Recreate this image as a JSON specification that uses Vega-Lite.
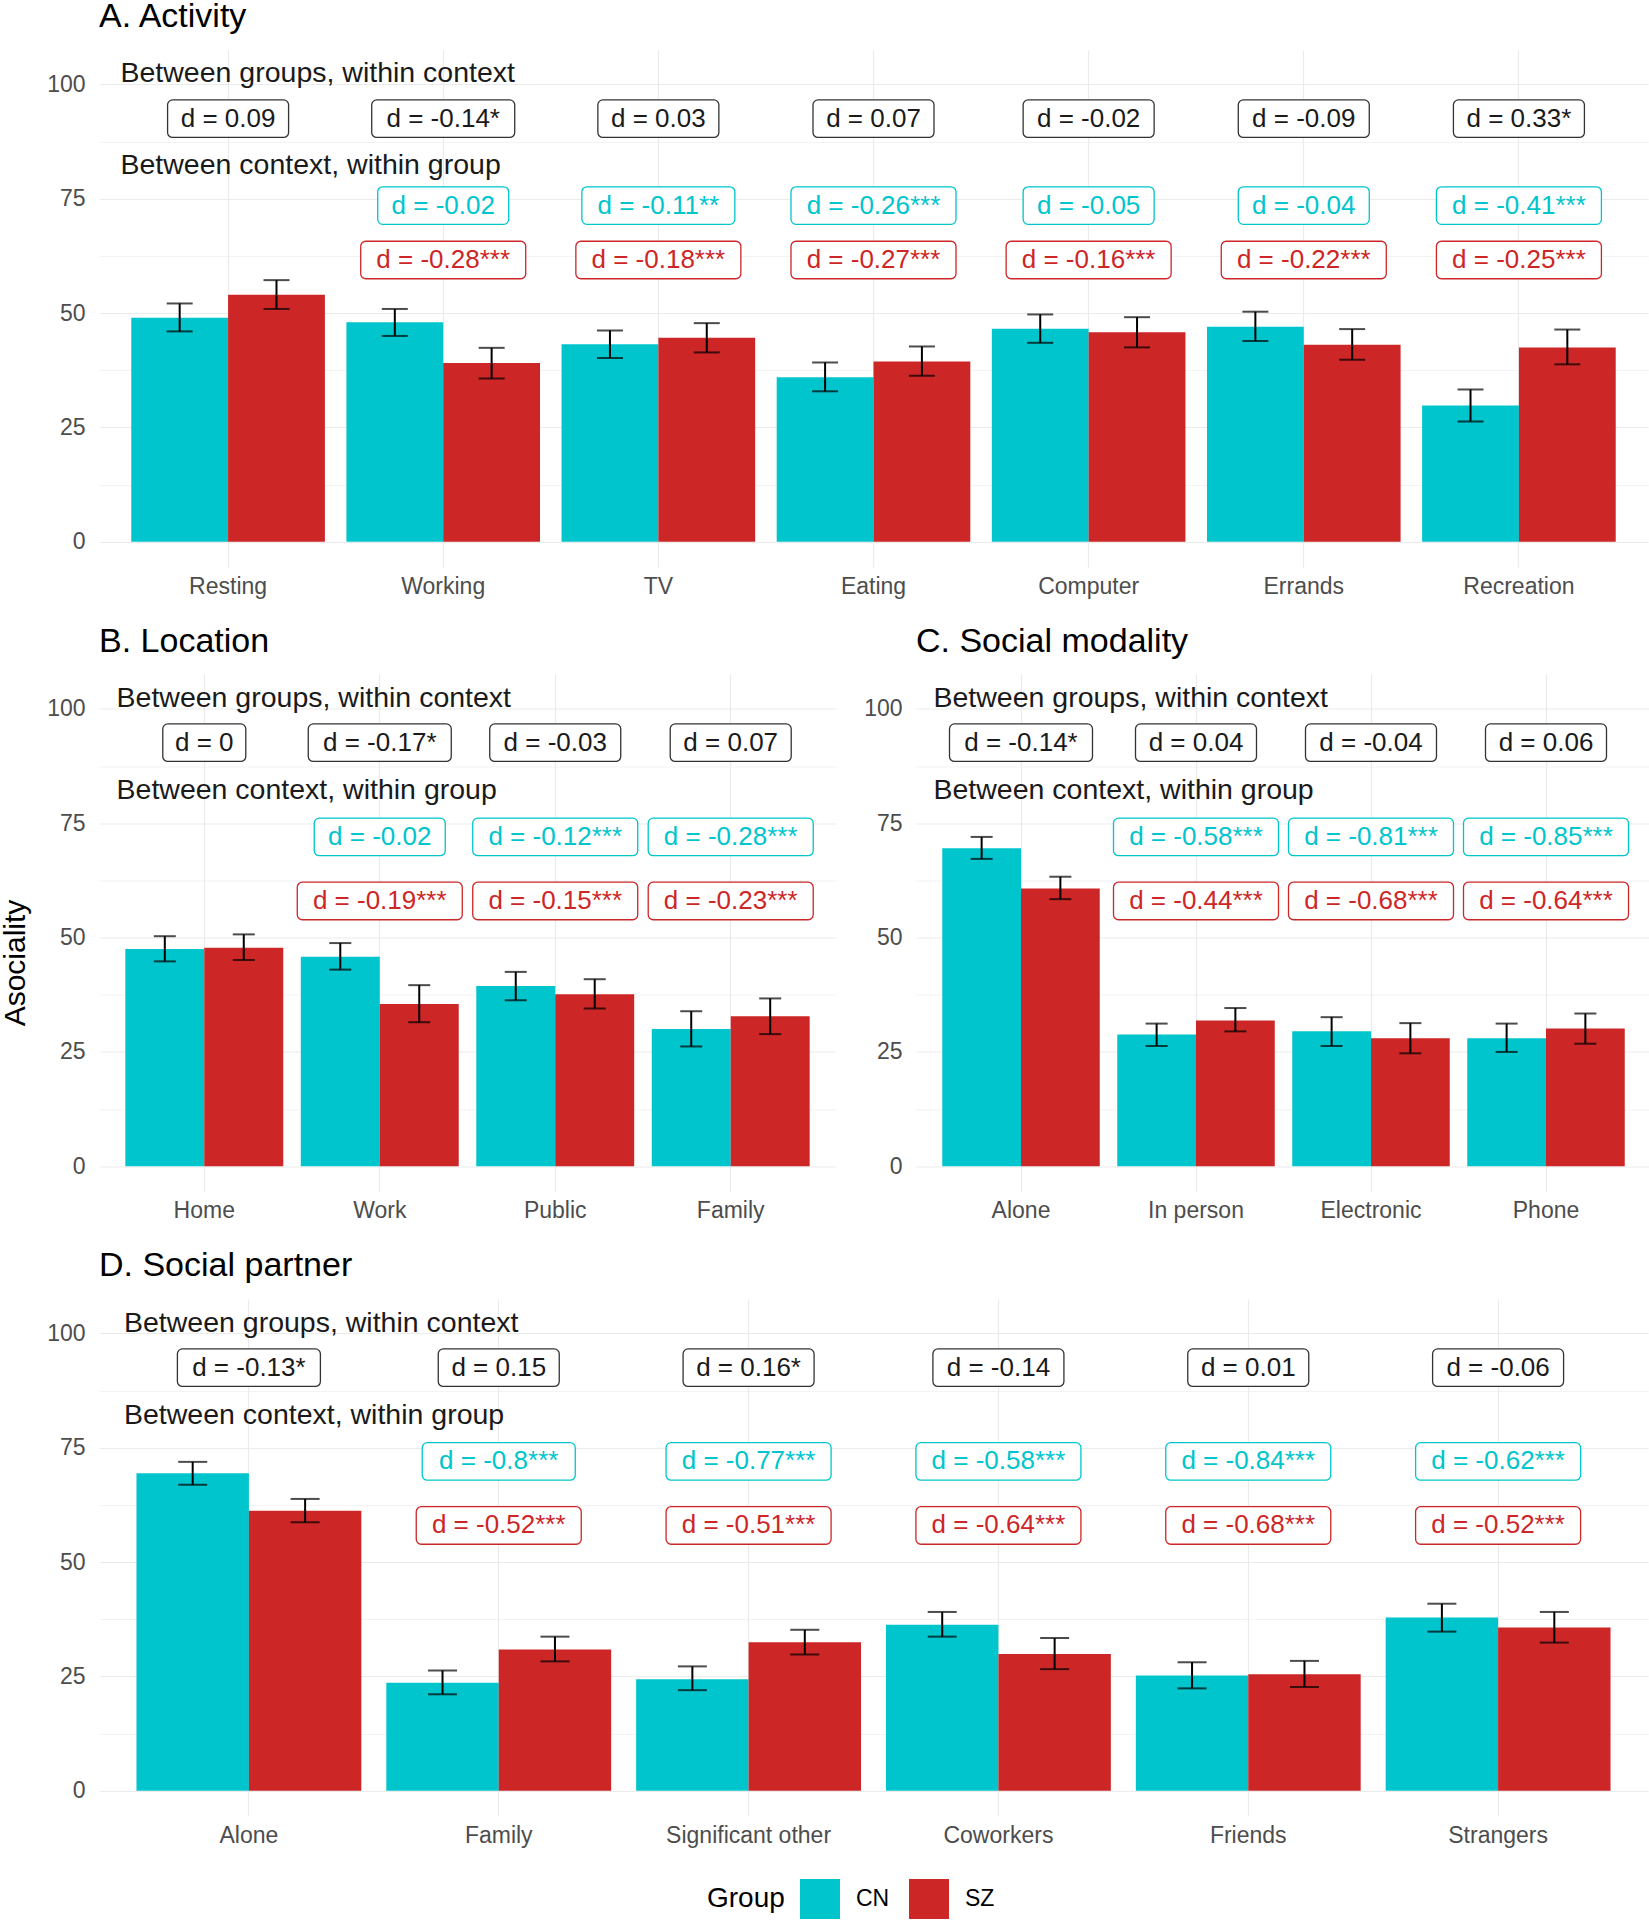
{
  "$schema": "https://vega.github.io/schema/vega-lite/v6.json",
  "background": "white",
  "padding": 0,
  "spacing": 26.5,
  "resolve": {"scale": {"xOffset": "independent", "x": "independent", "y": "independent"}},
  "config": {
    "font": "Liberation Sans",
    "view": {"stroke": null},
    "axis": {"domain": false, "ticks": false, "gridColor": "#EBEBEB", "labelFontSize": 23, "labelColor": "#4D4D4D", "labelFont": "Liberation Sans", "titleFont": "Liberation Sans"},
    "title": {"fontSize": 34, "fontWeight": "normal", "anchor": "start", "frame": "group", "color": "#000000", "offset": 16, "baseline": "alphabetic", "font": "Liberation Sans"}
  },
  "datasets": {
    "bars": [
      {"panel": "A", "context": "Resting", "group": "CN", "mean": 49.0, "lo": 46.0, "hi": 52.1},
      {"panel": "A", "context": "Resting", "group": "SZ", "mean": 54.0, "lo": 50.9, "hi": 57.2},
      {"panel": "A", "context": "Working", "group": "CN", "mean": 48.0, "lo": 45.0, "hi": 50.9},
      {"panel": "A", "context": "Working", "group": "SZ", "mean": 39.1, "lo": 35.7, "hi": 42.4},
      {"panel": "A", "context": "TV", "group": "CN", "mean": 43.2, "lo": 40.2, "hi": 46.2},
      {"panel": "A", "context": "TV", "group": "SZ", "mean": 44.6, "lo": 41.4, "hi": 47.8},
      {"panel": "A", "context": "Eating", "group": "CN", "mean": 36.0, "lo": 32.9, "hi": 39.2},
      {"panel": "A", "context": "Eating", "group": "SZ", "mean": 39.4, "lo": 36.3, "hi": 42.7},
      {"panel": "A", "context": "Computer", "group": "CN", "mean": 46.6, "lo": 43.5, "hi": 49.7},
      {"panel": "A", "context": "Computer", "group": "SZ", "mean": 45.8, "lo": 42.5, "hi": 49.1},
      {"panel": "A", "context": "Errands", "group": "CN", "mean": 47.0, "lo": 43.9, "hi": 50.3},
      {"panel": "A", "context": "Errands", "group": "SZ", "mean": 43.1, "lo": 39.8, "hi": 46.5},
      {"panel": "A", "context": "Recreation", "group": "CN", "mean": 29.8, "lo": 26.3, "hi": 33.3},
      {"panel": "A", "context": "Recreation", "group": "SZ", "mean": 42.5, "lo": 38.8, "hi": 46.4},
      {"panel": "B", "context": "Home", "group": "CN", "mean": 47.5, "lo": 44.8, "hi": 50.3},
      {"panel": "B", "context": "Home", "group": "SZ", "mean": 47.8, "lo": 45.1, "hi": 50.7},
      {"panel": "B", "context": "Work", "group": "CN", "mean": 45.8, "lo": 43.0, "hi": 48.8},
      {"panel": "B", "context": "Work", "group": "SZ", "mean": 35.5, "lo": 31.5, "hi": 39.6},
      {"panel": "B", "context": "Public", "group": "CN", "mean": 39.4, "lo": 36.3, "hi": 42.5},
      {"panel": "B", "context": "Public", "group": "SZ", "mean": 37.6, "lo": 34.5, "hi": 40.9},
      {"panel": "B", "context": "Family", "group": "CN", "mean": 30.0, "lo": 26.2, "hi": 33.9},
      {"panel": "B", "context": "Family", "group": "SZ", "mean": 32.8, "lo": 28.9, "hi": 36.7},
      {"panel": "C", "context": "Alone", "group": "CN", "mean": 69.5, "lo": 67.2, "hi": 72.0},
      {"panel": "C", "context": "Alone", "group": "SZ", "mean": 60.7, "lo": 58.4, "hi": 63.3},
      {"panel": "C", "context": "In person", "group": "CN", "mean": 28.8, "lo": 26.3, "hi": 31.2},
      {"panel": "C", "context": "In person", "group": "SZ", "mean": 31.9, "lo": 29.5, "hi": 34.6},
      {"panel": "C", "context": "Electronic", "group": "CN", "mean": 29.5, "lo": 26.3, "hi": 32.6},
      {"panel": "C", "context": "Electronic", "group": "SZ", "mean": 28.0, "lo": 24.7, "hi": 31.3},
      {"panel": "C", "context": "Phone", "group": "CN", "mean": 28.0, "lo": 25.0, "hi": 31.2},
      {"panel": "C", "context": "Phone", "group": "SZ", "mean": 30.1, "lo": 26.8, "hi": 33.4},
      {"panel": "D", "context": "Alone", "group": "CN", "mean": 69.4, "lo": 66.9, "hi": 71.9},
      {"panel": "D", "context": "Alone", "group": "SZ", "mean": 61.2, "lo": 58.7, "hi": 63.8},
      {"panel": "D", "context": "Family", "group": "CN", "mean": 23.6, "lo": 21.1, "hi": 26.3},
      {"panel": "D", "context": "Family", "group": "SZ", "mean": 30.9, "lo": 28.3, "hi": 33.7},
      {"panel": "D", "context": "Significant other", "group": "CN", "mean": 24.4, "lo": 22.0, "hi": 27.2},
      {"panel": "D", "context": "Significant other", "group": "SZ", "mean": 32.5, "lo": 29.8, "hi": 35.2},
      {"panel": "D", "context": "Coworkers", "group": "CN", "mean": 36.3, "lo": 33.7, "hi": 39.1},
      {"panel": "D", "context": "Coworkers", "group": "SZ", "mean": 29.9, "lo": 26.6, "hi": 33.4},
      {"panel": "D", "context": "Friends", "group": "CN", "mean": 25.2, "lo": 22.4, "hi": 28.1},
      {"panel": "D", "context": "Friends", "group": "SZ", "mean": 25.5, "lo": 22.7, "hi": 28.4},
      {"panel": "D", "context": "Strangers", "group": "CN", "mean": 37.9, "lo": 34.8, "hi": 40.9},
      {"panel": "D", "context": "Strangers", "group": "SZ", "mean": 35.7, "lo": 32.4, "hi": 39.1}
    ],
    "labels": [
      {"panel": "A", "context": "Resting", "row": "diff", "label": "d = 0.09"},
      {"panel": "A", "context": "Working", "row": "diff", "label": "d = -0.14*"},
      {"panel": "A", "context": "TV", "row": "diff", "label": "d = 0.03"},
      {"panel": "A", "context": "Eating", "row": "diff", "label": "d = 0.07"},
      {"panel": "A", "context": "Computer", "row": "diff", "label": "d = -0.02"},
      {"panel": "A", "context": "Errands", "row": "diff", "label": "d = -0.09"},
      {"panel": "A", "context": "Recreation", "row": "diff", "label": "d = 0.33*"},
      {"panel": "A", "context": "Working", "row": "CN", "label": "d = -0.02"},
      {"panel": "A", "context": "TV", "row": "CN", "label": "d = -0.11**"},
      {"panel": "A", "context": "Eating", "row": "CN", "label": "d = -0.26***"},
      {"panel": "A", "context": "Computer", "row": "CN", "label": "d = -0.05"},
      {"panel": "A", "context": "Errands", "row": "CN", "label": "d = -0.04"},
      {"panel": "A", "context": "Recreation", "row": "CN", "label": "d = -0.41***"},
      {"panel": "A", "context": "Working", "row": "SZ", "label": "d = -0.28***"},
      {"panel": "A", "context": "TV", "row": "SZ", "label": "d = -0.18***"},
      {"panel": "A", "context": "Eating", "row": "SZ", "label": "d = -0.27***"},
      {"panel": "A", "context": "Computer", "row": "SZ", "label": "d = -0.16***"},
      {"panel": "A", "context": "Errands", "row": "SZ", "label": "d = -0.22***"},
      {"panel": "A", "context": "Recreation", "row": "SZ", "label": "d = -0.25***"},
      {"panel": "B", "context": "Home", "row": "diff", "label": "d = 0"},
      {"panel": "B", "context": "Work", "row": "diff", "label": "d = -0.17*"},
      {"panel": "B", "context": "Public", "row": "diff", "label": "d = -0.03"},
      {"panel": "B", "context": "Family", "row": "diff", "label": "d = 0.07"},
      {"panel": "B", "context": "Work", "row": "CN", "label": "d = -0.02"},
      {"panel": "B", "context": "Public", "row": "CN", "label": "d = -0.12***"},
      {"panel": "B", "context": "Family", "row": "CN", "label": "d = -0.28***"},
      {"panel": "B", "context": "Work", "row": "SZ", "label": "d = -0.19***"},
      {"panel": "B", "context": "Public", "row": "SZ", "label": "d = -0.15***"},
      {"panel": "B", "context": "Family", "row": "SZ", "label": "d = -0.23***"},
      {"panel": "C", "context": "Alone", "row": "diff", "label": "d = -0.14*"},
      {"panel": "C", "context": "In person", "row": "diff", "label": "d = 0.04"},
      {"panel": "C", "context": "Electronic", "row": "diff", "label": "d = -0.04"},
      {"panel": "C", "context": "Phone", "row": "diff", "label": "d = 0.06"},
      {"panel": "C", "context": "In person", "row": "CN", "label": "d = -0.58***"},
      {"panel": "C", "context": "Electronic", "row": "CN", "label": "d = -0.81***"},
      {"panel": "C", "context": "Phone", "row": "CN", "label": "d = -0.85***"},
      {"panel": "C", "context": "In person", "row": "SZ", "label": "d = -0.44***"},
      {"panel": "C", "context": "Electronic", "row": "SZ", "label": "d = -0.68***"},
      {"panel": "C", "context": "Phone", "row": "SZ", "label": "d = -0.64***"},
      {"panel": "D", "context": "Alone", "row": "diff", "label": "d = -0.13*"},
      {"panel": "D", "context": "Family", "row": "diff", "label": "d = 0.15"},
      {"panel": "D", "context": "Significant other", "row": "diff", "label": "d = 0.16*"},
      {"panel": "D", "context": "Coworkers", "row": "diff", "label": "d = -0.14"},
      {"panel": "D", "context": "Friends", "row": "diff", "label": "d = 0.01"},
      {"panel": "D", "context": "Strangers", "row": "diff", "label": "d = -0.06"},
      {"panel": "D", "context": "Family", "row": "CN", "label": "d = -0.8***"},
      {"panel": "D", "context": "Significant other", "row": "CN", "label": "d = -0.77***"},
      {"panel": "D", "context": "Coworkers", "row": "CN", "label": "d = -0.58***"},
      {"panel": "D", "context": "Friends", "row": "CN", "label": "d = -0.84***"},
      {"panel": "D", "context": "Strangers", "row": "CN", "label": "d = -0.62***"},
      {"panel": "D", "context": "Family", "row": "SZ", "label": "d = -0.52***"},
      {"panel": "D", "context": "Significant other", "row": "SZ", "label": "d = -0.51***"},
      {"panel": "D", "context": "Coworkers", "row": "SZ", "label": "d = -0.64***"},
      {"panel": "D", "context": "Friends", "row": "SZ", "label": "d = -0.68***"},
      {"panel": "D", "context": "Strangers", "row": "SZ", "label": "d = -0.52***"}
    ],
    "heads": [
      {"panel": "A", "context": "Resting", "row": "h1", "label": "Between groups, within context"},
      {"panel": "A", "context": "Resting", "row": "h2", "label": "Between context, within group"},
      {"panel": "B", "context": "Home", "row": "h1", "label": "Between groups, within context"},
      {"panel": "B", "context": "Home", "row": "h2", "label": "Between context, within group"},
      {"panel": "C", "context": "Alone", "row": "h1", "label": "Between groups, within context"},
      {"panel": "C", "context": "Alone", "row": "h2", "label": "Between context, within group"},
      {"panel": "D", "context": "Alone", "row": "h1", "label": "Between groups, within context"},
      {"panel": "D", "context": "Alone", "row": "h2", "label": "Between context, within group"}
    ]
  },
  "vconcat": [
    {
      "width": 1549, "height": 517,
      "title": {"text": "A. Activity"},
      "encoding": {
        "x": {"field": "context", "type": "nominal", "scale": {"domain": ["Resting", "Working", "TV", "Eating", "Computer", "Errands", "Recreation"], "paddingInner": 0.1, "paddingOuter": 0.15}, "axis": {"title": null, "labelAngle": 0, "bandPosition": 0.5, "grid": true, "gridWidth": 1.2, "labelPadding": 8}}
      },
      "layer": [
        {"data": {"name": "bars"}, "transform": [{"filter": "datum.panel === 'A'"}], "mark": {"type": "bar"},
         "encoding": {
           "xOffset": {"field": "group", "type": "nominal", "scale": {"domain": ["CN", "SZ"], "paddingInner": 0, "paddingOuter": 0}},
           "y": {"field": "mean", "type": "quantitative", "scale": {"domain": [-5.5, 107.5], "nice": false, "zero": false},
                 "axis": {"title": " ", "titleX": -84, "titleY": 258, "titleAngle": -90, "titleAlign": "center", "titleBaseline": "middle", "titleFontSize": 30, "values": [0, 12.5, 25, 37.5, 50, 62.5, 75, 87.5, 100], "labelExpr": "datum.value % 25 === 0 ? datum.label : ''", "gridWidth": {"condition": {"test": "datum.value % 25 === 0", "value": 1.2}, "value": 0.6}, "labelPadding": 14}},
           "color": {"field": "group", "type": "nominal", "scale": {"domain": ["CN", "SZ"], "range": ["#00C5CD", "#CD2626"]},
                     "legend": {"title": "Group", "orient": "none", "legendX": 608, "legendY": 1829, "direction": "horizontal", "titleOrient": "left", "titleAnchor": "middle", "titleBaseline": "middle", "titleFontSize": 28, "titleFontWeight": "normal", "titleColor": "#000000", "titlePadding": 15, "labelFontSize": 23, "labelColor": "#000000", "symbolType": "square", "symbolSize": 1600, "symbolStrokeWidth": 0, "columnPadding": 19, "labelOffset": 16, "padding": 0}}
         }},
        {"data": {"name": "bars"}, "transform": [{"filter": "datum.panel === 'A'"}], "mark": {"type": "rule", "color": "#000000", "strokeWidth": 2},
         "encoding": {"xOffset": {"field": "group", "type": "nominal", "scale": {"domain": ["CN", "SZ"], "paddingInner": 0, "paddingOuter": 0}}, "y": {"field": "lo", "type": "quantitative"}, "y2": {"field": "hi"}}},
        {"data": {"name": "bars"}, "transform": [{"filter": "datum.panel === 'A'"}], "mark": {"type": "tick", "orient": "horizontal", "color": "#000000", "thickness": 2, "size": 26},
         "encoding": {"xOffset": {"field": "group", "type": "nominal", "scale": {"domain": ["CN", "SZ"], "paddingInner": 0, "paddingOuter": 0}}, "y": {"field": "lo", "type": "quantitative"}}},
        {"data": {"name": "bars"}, "transform": [{"filter": "datum.panel === 'A'"}], "mark": {"type": "tick", "orient": "horizontal", "color": "#000000", "thickness": 2, "size": 26},
         "encoding": {"xOffset": {"field": "group", "type": "nominal", "scale": {"domain": ["CN", "SZ"], "paddingInner": 0, "paddingOuter": 0}}, "y": {"field": "hi", "type": "quantitative"}}},
        {"data": {"name": "labels"}, "transform": [{"filter": "datum.panel === 'A' && datum.row === 'diff'"}], "mark": {"type": "bar", "orient": "vertical", "fill": "#FFFFFF", "stroke": "#333333", "strokeWidth": 1.3, "cornerRadius": 5},
         "encoding": {"y": {"datum": 88.4}, "y2": {"datum": 96.6}, "size": {"condition": [{"test": "length(datum.label) <= 5", "value": 83}, {"test": "length(datum.label) == 8", "value": 121}, {"test": "length(datum.label) == 9", "value": 131}, {"test": "length(datum.label) == 10", "value": 143}, {"test": "length(datum.label) == 11", "value": 153}], "value": 165}}},
        {"data": {"name": "labels"}, "transform": [{"filter": "datum.panel === 'A' && datum.row === 'CN'"}], "mark": {"type": "bar", "orient": "vertical", "fill": "#FFFFFF", "stroke": "#00C5CD", "strokeWidth": 1.3, "cornerRadius": 5},
         "encoding": {"y": {"datum": 69.4}, "y2": {"datum": 77.6}, "size": {"condition": [{"test": "length(datum.label) <= 5", "value": 83}, {"test": "length(datum.label) == 8", "value": 121}, {"test": "length(datum.label) == 9", "value": 131}, {"test": "length(datum.label) == 10", "value": 143}, {"test": "length(datum.label) == 11", "value": 153}], "value": 165}}},
        {"data": {"name": "labels"}, "transform": [{"filter": "datum.panel === 'A' && datum.row === 'SZ'"}], "mark": {"type": "bar", "orient": "vertical", "fill": "#FFFFFF", "stroke": "#CD2626", "strokeWidth": 1.3, "cornerRadius": 5},
         "encoding": {"y": {"datum": 57.5}, "y2": {"datum": 65.7}, "size": {"condition": [{"test": "length(datum.label) <= 5", "value": 83}, {"test": "length(datum.label) == 8", "value": 121}, {"test": "length(datum.label) == 9", "value": 131}, {"test": "length(datum.label) == 10", "value": 143}, {"test": "length(datum.label) == 11", "value": 153}], "value": 165}}},
        {"data": {"name": "labels"}, "transform": [{"filter": "datum.panel === 'A' && datum.row === 'diff'"}], "mark": {"type": "text", "fontSize": 26, "color": "#1A1A1A", "baseline": "middle"},
         "encoding": {"y": {"datum": 92.5}, "text": {"field": "label"}}},
        {"data": {"name": "labels"}, "transform": [{"filter": "datum.panel === 'A' && datum.row === 'CN'"}], "mark": {"type": "text", "fontSize": 26, "color": "#00C5CD", "baseline": "middle"},
         "encoding": {"y": {"datum": 73.5}, "text": {"field": "label"}}},
        {"data": {"name": "labels"}, "transform": [{"filter": "datum.panel === 'A' && datum.row === 'SZ'"}], "mark": {"type": "text", "fontSize": 26, "color": "#CD2626", "baseline": "middle"},
         "encoding": {"y": {"datum": 61.6}, "text": {"field": "label"}}},
        {"data": {"name": "heads"}, "transform": [{"filter": "datum.panel === 'A' && datum.row === 'h1'"}], "mark": {"type": "text", "fontSize": 28.5, "color": "#1A1A1A", "align": "left", "baseline": "middle"},
         "encoding": {"x": {"field": "context", "type": "nominal", "bandPosition": -0.0556, "scale": {"domain": ["Resting", "Working", "TV", "Eating", "Computer", "Errands", "Recreation"], "paddingInner": 0.1, "paddingOuter": 0.15}}, "y": {"datum": 102.4}, "text": {"field": "label"}}},
        {"data": {"name": "heads"}, "transform": [{"filter": "datum.panel === 'A' && datum.row === 'h2'"}], "mark": {"type": "text", "fontSize": 28.5, "color": "#1A1A1A", "align": "left", "baseline": "middle"},
         "encoding": {"x": {"field": "context", "type": "nominal", "bandPosition": -0.0556, "scale": {"domain": ["Resting", "Working", "TV", "Eating", "Computer", "Errands", "Recreation"], "paddingInner": 0.1, "paddingOuter": 0.15}}, "y": {"datum": 82.3}, "text": {"field": "label"}}}
      ]
    },
    {
      "spacing": 27,
      "resolve": {"scale": {"xOffset": "independent", "x": "independent", "y": "independent"}},
      "hconcat": [
        {
          "width": 737, "height": 517,
          "title": {"text": "B. Location"},
          "encoding": {
            "x": {"field": "context", "type": "nominal", "scale": {"domain": ["Home", "Work", "Public", "Family"], "paddingInner": 0.1, "paddingOuter": 0.15}, "axis": {"title": null, "labelAngle": 0, "bandPosition": 0.5, "grid": true, "gridWidth": 1.2, "labelPadding": 8}}
          },
          "layer": [
            {"data": {"name": "bars"}, "transform": [{"filter": "datum.panel === 'B'"}], "mark": {"type": "bar"},
             "encoding": {
               "xOffset": {"field": "group", "type": "nominal", "scale": {"domain": ["CN", "SZ"], "paddingInner": 0, "paddingOuter": 0}},
               "y": {"field": "mean", "type": "quantitative", "scale": {"domain": [-5.5, 107.5], "nice": false, "zero": false},
                     "axis": {"title": "Asociality", "titleX": -84, "titleY": 288, "titleAngle": -90, "titleAlign": "center", "titleBaseline": "middle", "titleFontSize": 30, "titleFontWeight": "normal", "titleColor": "#000000", "values": [0, 12.5, 25, 37.5, 50, 62.5, 75, 87.5, 100], "labelExpr": "datum.value % 25 === 0 ? datum.label : ''", "gridWidth": {"condition": {"test": "datum.value % 25 === 0", "value": 1.2}, "value": 0.6}, "labelPadding": 14}},
               "color": {"field": "group", "type": "nominal", "scale": {"domain": ["CN", "SZ"], "range": ["#00C5CD", "#CD2626"]}}
             }},
            {"data": {"name": "bars"}, "transform": [{"filter": "datum.panel === 'B'"}], "mark": {"type": "rule", "color": "#000000", "strokeWidth": 2},
             "encoding": {"xOffset": {"field": "group", "type": "nominal", "scale": {"domain": ["CN", "SZ"], "paddingInner": 0, "paddingOuter": 0}}, "y": {"field": "lo", "type": "quantitative"}, "y2": {"field": "hi"}}},
            {"data": {"name": "bars"}, "transform": [{"filter": "datum.panel === 'B'"}], "mark": {"type": "tick", "orient": "horizontal", "color": "#000000", "thickness": 2, "size": 22},
             "encoding": {"xOffset": {"field": "group", "type": "nominal", "scale": {"domain": ["CN", "SZ"], "paddingInner": 0, "paddingOuter": 0}}, "y": {"field": "lo", "type": "quantitative"}}},
            {"data": {"name": "bars"}, "transform": [{"filter": "datum.panel === 'B'"}], "mark": {"type": "tick", "orient": "horizontal", "color": "#000000", "thickness": 2, "size": 22},
             "encoding": {"xOffset": {"field": "group", "type": "nominal", "scale": {"domain": ["CN", "SZ"], "paddingInner": 0, "paddingOuter": 0}}, "y": {"field": "hi", "type": "quantitative"}}},
            {"data": {"name": "labels"}, "transform": [{"filter": "datum.panel === 'B' && datum.row === 'diff'"}], "mark": {"type": "bar", "orient": "vertical", "fill": "#FFFFFF", "stroke": "#333333", "strokeWidth": 1.3, "cornerRadius": 5},
             "encoding": {"y": {"datum": 88.5}, "y2": {"datum": 96.7}, "size": {"condition": [{"test": "length(datum.label) <= 5", "value": 83}, {"test": "length(datum.label) == 8", "value": 121}, {"test": "length(datum.label) == 9", "value": 131}, {"test": "length(datum.label) == 10", "value": 143}, {"test": "length(datum.label) == 11", "value": 153}], "value": 165}}},
            {"data": {"name": "labels"}, "transform": [{"filter": "datum.panel === 'B' && datum.row === 'CN'"}], "mark": {"type": "bar", "orient": "vertical", "fill": "#FFFFFF", "stroke": "#00C5CD", "strokeWidth": 1.3, "cornerRadius": 5},
             "encoding": {"y": {"datum": 67.9}, "y2": {"datum": 76.1}, "size": {"condition": [{"test": "length(datum.label) <= 5", "value": 83}, {"test": "length(datum.label) == 8", "value": 121}, {"test": "length(datum.label) == 9", "value": 131}, {"test": "length(datum.label) == 10", "value": 143}, {"test": "length(datum.label) == 11", "value": 153}], "value": 165}}},
            {"data": {"name": "labels"}, "transform": [{"filter": "datum.panel === 'B' && datum.row === 'SZ'"}], "mark": {"type": "bar", "orient": "vertical", "fill": "#FFFFFF", "stroke": "#CD2626", "strokeWidth": 1.3, "cornerRadius": 5},
             "encoding": {"y": {"datum": 53.9}, "y2": {"datum": 62.1}, "size": {"condition": [{"test": "length(datum.label) <= 5", "value": 83}, {"test": "length(datum.label) == 8", "value": 121}, {"test": "length(datum.label) == 9", "value": 131}, {"test": "length(datum.label) == 10", "value": 143}, {"test": "length(datum.label) == 11", "value": 153}], "value": 165}}},
            {"data": {"name": "labels"}, "transform": [{"filter": "datum.panel === 'B' && datum.row === 'diff'"}], "mark": {"type": "text", "fontSize": 26, "color": "#1A1A1A", "baseline": "middle"},
             "encoding": {"y": {"datum": 92.6}, "text": {"field": "label"}}},
            {"data": {"name": "labels"}, "transform": [{"filter": "datum.panel === 'B' && datum.row === 'CN'"}], "mark": {"type": "text", "fontSize": 26, "color": "#00C5CD", "baseline": "middle"},
             "encoding": {"y": {"datum": 72.0}, "text": {"field": "label"}}},
            {"data": {"name": "labels"}, "transform": [{"filter": "datum.panel === 'B' && datum.row === 'SZ'"}], "mark": {"type": "text", "fontSize": 26, "color": "#CD2626", "baseline": "middle"},
             "encoding": {"y": {"datum": 58.0}, "text": {"field": "label"}}},
            {"data": {"name": "heads"}, "transform": [{"filter": "datum.panel === 'B' && datum.row === 'h1'"}], "mark": {"type": "text", "fontSize": 28.5, "color": "#1A1A1A", "align": "left", "baseline": "middle"},
             "encoding": {"x": {"field": "context", "type": "nominal", "bandPosition": -0.0556, "scale": {"domain": ["Home", "Work", "Public", "Family"], "paddingInner": 0.1, "paddingOuter": 0.15}}, "y": {"datum": 102.4}, "text": {"field": "label"}}},
            {"data": {"name": "heads"}, "transform": [{"filter": "datum.panel === 'B' && datum.row === 'h2'"}], "mark": {"type": "text", "fontSize": 28.5, "color": "#1A1A1A", "align": "left", "baseline": "middle"},
             "encoding": {"x": {"field": "context", "type": "nominal", "bandPosition": -0.0556, "scale": {"domain": ["Home", "Work", "Public", "Family"], "paddingInner": 0.1, "paddingOuter": 0.15}}, "y": {"datum": 82.3}, "text": {"field": "label"}}}
          ]
        },
        {
          "width": 735, "height": 517,
          "title": {"text": "C. Social modality"},
          "encoding": {
            "x": {"field": "context", "type": "nominal", "scale": {"domain": ["Alone", "In person", "Electronic", "Phone"], "paddingInner": 0.1, "paddingOuter": 0.15}, "axis": {"title": null, "labelAngle": 0, "bandPosition": 0.5, "grid": true, "gridWidth": 1.2, "labelPadding": 8}}
          },
          "layer": [
            {"data": {"name": "bars"}, "transform": [{"filter": "datum.panel === 'C'"}], "mark": {"type": "bar"},
             "encoding": {
               "xOffset": {"field": "group", "type": "nominal", "scale": {"domain": ["CN", "SZ"], "paddingInner": 0, "paddingOuter": 0}},
               "y": {"field": "mean", "type": "quantitative", "scale": {"domain": [-5.5, 107.5], "nice": false, "zero": false},
                     "axis": {"title": null, "values": [0, 12.5, 25, 37.5, 50, 62.5, 75, 87.5, 100], "labelExpr": "datum.value % 25 === 0 ? datum.label : ''", "gridWidth": {"condition": {"test": "datum.value % 25 === 0", "value": 1.2}, "value": 0.6}, "labelPadding": 14}},
               "color": {"field": "group", "type": "nominal", "scale": {"domain": ["CN", "SZ"], "range": ["#00C5CD", "#CD2626"]}}
             }},
            {"data": {"name": "bars"}, "transform": [{"filter": "datum.panel === 'C'"}], "mark": {"type": "rule", "color": "#000000", "strokeWidth": 2},
             "encoding": {"xOffset": {"field": "group", "type": "nominal", "scale": {"domain": ["CN", "SZ"], "paddingInner": 0, "paddingOuter": 0}}, "y": {"field": "lo", "type": "quantitative"}, "y2": {"field": "hi"}}},
            {"data": {"name": "bars"}, "transform": [{"filter": "datum.panel === 'C'"}], "mark": {"type": "tick", "orient": "horizontal", "color": "#000000", "thickness": 2, "size": 22},
             "encoding": {"xOffset": {"field": "group", "type": "nominal", "scale": {"domain": ["CN", "SZ"], "paddingInner": 0, "paddingOuter": 0}}, "y": {"field": "lo", "type": "quantitative"}}},
            {"data": {"name": "bars"}, "transform": [{"filter": "datum.panel === 'C'"}], "mark": {"type": "tick", "orient": "horizontal", "color": "#000000", "thickness": 2, "size": 22},
             "encoding": {"xOffset": {"field": "group", "type": "nominal", "scale": {"domain": ["CN", "SZ"], "paddingInner": 0, "paddingOuter": 0}}, "y": {"field": "hi", "type": "quantitative"}}},
            {"data": {"name": "labels"}, "transform": [{"filter": "datum.panel === 'C' && datum.row === 'diff'"}], "mark": {"type": "bar", "orient": "vertical", "fill": "#FFFFFF", "stroke": "#333333", "strokeWidth": 1.3, "cornerRadius": 5},
             "encoding": {"y": {"datum": 88.5}, "y2": {"datum": 96.7}, "size": {"condition": [{"test": "length(datum.label) <= 5", "value": 83}, {"test": "length(datum.label) == 8", "value": 121}, {"test": "length(datum.label) == 9", "value": 131}, {"test": "length(datum.label) == 10", "value": 143}, {"test": "length(datum.label) == 11", "value": 153}], "value": 165}}},
            {"data": {"name": "labels"}, "transform": [{"filter": "datum.panel === 'C' && datum.row === 'CN'"}], "mark": {"type": "bar", "orient": "vertical", "fill": "#FFFFFF", "stroke": "#00C5CD", "strokeWidth": 1.3, "cornerRadius": 5},
             "encoding": {"y": {"datum": 67.9}, "y2": {"datum": 76.1}, "size": {"condition": [{"test": "length(datum.label) <= 5", "value": 83}, {"test": "length(datum.label) == 8", "value": 121}, {"test": "length(datum.label) == 9", "value": 131}, {"test": "length(datum.label) == 10", "value": 143}, {"test": "length(datum.label) == 11", "value": 153}], "value": 165}}},
            {"data": {"name": "labels"}, "transform": [{"filter": "datum.panel === 'C' && datum.row === 'SZ'"}], "mark": {"type": "bar", "orient": "vertical", "fill": "#FFFFFF", "stroke": "#CD2626", "strokeWidth": 1.3, "cornerRadius": 5},
             "encoding": {"y": {"datum": 53.9}, "y2": {"datum": 62.1}, "size": {"condition": [{"test": "length(datum.label) <= 5", "value": 83}, {"test": "length(datum.label) == 8", "value": 121}, {"test": "length(datum.label) == 9", "value": 131}, {"test": "length(datum.label) == 10", "value": 143}, {"test": "length(datum.label) == 11", "value": 153}], "value": 165}}},
            {"data": {"name": "labels"}, "transform": [{"filter": "datum.panel === 'C' && datum.row === 'diff'"}], "mark": {"type": "text", "fontSize": 26, "color": "#1A1A1A", "baseline": "middle"},
             "encoding": {"y": {"datum": 92.6}, "text": {"field": "label"}}},
            {"data": {"name": "labels"}, "transform": [{"filter": "datum.panel === 'C' && datum.row === 'CN'"}], "mark": {"type": "text", "fontSize": 26, "color": "#00C5CD", "baseline": "middle"},
             "encoding": {"y": {"datum": 72.0}, "text": {"field": "label"}}},
            {"data": {"name": "labels"}, "transform": [{"filter": "datum.panel === 'C' && datum.row === 'SZ'"}], "mark": {"type": "text", "fontSize": 26, "color": "#CD2626", "baseline": "middle"},
             "encoding": {"y": {"datum": 58.0}, "text": {"field": "label"}}},
            {"data": {"name": "heads"}, "transform": [{"filter": "datum.panel === 'C' && datum.row === 'h1'"}], "mark": {"type": "text", "fontSize": 28.5, "color": "#1A1A1A", "align": "left", "baseline": "middle"},
             "encoding": {"x": {"field": "context", "type": "nominal", "bandPosition": -0.0556, "scale": {"domain": ["Alone", "In person", "Electronic", "Phone"], "paddingInner": 0.1, "paddingOuter": 0.15}}, "y": {"datum": 102.4}, "text": {"field": "label"}}},
            {"data": {"name": "heads"}, "transform": [{"filter": "datum.panel === 'C' && datum.row === 'h2'"}], "mark": {"type": "text", "fontSize": 28.5, "color": "#1A1A1A", "align": "left", "baseline": "middle"},
             "encoding": {"x": {"field": "context", "type": "nominal", "bandPosition": -0.0556, "scale": {"domain": ["Alone", "In person", "Electronic", "Phone"], "paddingInner": 0.1, "paddingOuter": 0.15}}, "y": {"datum": 82.3}, "text": {"field": "label"}}}
          ]
        }
      ]
    },
    {
      "width": 1549, "height": 517,
      "title": {"text": "D. Social partner"},
      "encoding": {
        "x": {"field": "context", "type": "nominal", "scale": {"domain": ["Alone", "Family", "Significant other", "Coworkers", "Friends", "Strangers"], "paddingInner": 0.1, "paddingOuter": 0.15}, "axis": {"title": null, "labelAngle": 0, "bandPosition": 0.5, "grid": true, "gridWidth": 1.2, "labelPadding": 8}}
      },
      "layer": [
        {"data": {"name": "bars"}, "transform": [{"filter": "datum.panel === 'D'"}], "mark": {"type": "bar"},
         "encoding": {
           "xOffset": {"field": "group", "type": "nominal", "scale": {"domain": ["CN", "SZ"], "paddingInner": 0, "paddingOuter": 0}},
           "y": {"field": "mean", "type": "quantitative", "scale": {"domain": [-5.5, 107.5], "nice": false, "zero": false},
                 "axis": {"title": " ", "titleX": -84, "titleY": 258, "titleAngle": -90, "titleAlign": "center", "titleBaseline": "middle", "titleFontSize": 30, "values": [0, 12.5, 25, 37.5, 50, 62.5, 75, 87.5, 100], "labelExpr": "datum.value % 25 === 0 ? datum.label : ''", "gridWidth": {"condition": {"test": "datum.value % 25 === 0", "value": 1.2}, "value": 0.6}, "labelPadding": 14}},
           "color": {"field": "group", "type": "nominal", "scale": {"domain": ["CN", "SZ"], "range": ["#00C5CD", "#CD2626"]}}
         }},
        {"data": {"name": "bars"}, "transform": [{"filter": "datum.panel === 'D'"}], "mark": {"type": "rule", "color": "#000000", "strokeWidth": 2},
         "encoding": {"xOffset": {"field": "group", "type": "nominal", "scale": {"domain": ["CN", "SZ"], "paddingInner": 0, "paddingOuter": 0}}, "y": {"field": "lo", "type": "quantitative"}, "y2": {"field": "hi"}}},
        {"data": {"name": "bars"}, "transform": [{"filter": "datum.panel === 'D'"}], "mark": {"type": "tick", "orient": "horizontal", "color": "#000000", "thickness": 2, "size": 29},
         "encoding": {"xOffset": {"field": "group", "type": "nominal", "scale": {"domain": ["CN", "SZ"], "paddingInner": 0, "paddingOuter": 0}}, "y": {"field": "lo", "type": "quantitative"}}},
        {"data": {"name": "bars"}, "transform": [{"filter": "datum.panel === 'D'"}], "mark": {"type": "tick", "orient": "horizontal", "color": "#000000", "thickness": 2, "size": 29},
         "encoding": {"xOffset": {"field": "group", "type": "nominal", "scale": {"domain": ["CN", "SZ"], "paddingInner": 0, "paddingOuter": 0}}, "y": {"field": "hi", "type": "quantitative"}}},
        {"data": {"name": "labels"}, "transform": [{"filter": "datum.panel === 'D' && datum.row === 'diff'"}], "mark": {"type": "bar", "orient": "vertical", "fill": "#FFFFFF", "stroke": "#333333", "strokeWidth": 1.3, "cornerRadius": 5},
         "encoding": {"y": {"datum": 88.4}, "y2": {"datum": 96.6}, "size": {"condition": [{"test": "length(datum.label) <= 5", "value": 83}, {"test": "length(datum.label) == 8", "value": 121}, {"test": "length(datum.label) == 9", "value": 131}, {"test": "length(datum.label) == 10", "value": 143}, {"test": "length(datum.label) == 11", "value": 153}], "value": 165}}},
        {"data": {"name": "labels"}, "transform": [{"filter": "datum.panel === 'D' && datum.row === 'CN'"}], "mark": {"type": "bar", "orient": "vertical", "fill": "#FFFFFF", "stroke": "#00C5CD", "strokeWidth": 1.3, "cornerRadius": 5},
         "encoding": {"y": {"datum": 67.9}, "y2": {"datum": 76.1}, "size": {"condition": [{"test": "length(datum.label) <= 5", "value": 83}, {"test": "length(datum.label) == 8", "value": 121}, {"test": "length(datum.label) == 9", "value": 131}, {"test": "length(datum.label) == 10", "value": 143}, {"test": "length(datum.label) == 11", "value": 153}], "value": 165}}},
        {"data": {"name": "labels"}, "transform": [{"filter": "datum.panel === 'D' && datum.row === 'SZ'"}], "mark": {"type": "bar", "orient": "vertical", "fill": "#FFFFFF", "stroke": "#CD2626", "strokeWidth": 1.3, "cornerRadius": 5},
         "encoding": {"y": {"datum": 53.9}, "y2": {"datum": 62.1}, "size": {"condition": [{"test": "length(datum.label) <= 5", "value": 83}, {"test": "length(datum.label) == 8", "value": 121}, {"test": "length(datum.label) == 9", "value": 131}, {"test": "length(datum.label) == 10", "value": 143}, {"test": "length(datum.label) == 11", "value": 153}], "value": 165}}},
        {"data": {"name": "labels"}, "transform": [{"filter": "datum.panel === 'D' && datum.row === 'diff'"}], "mark": {"type": "text", "fontSize": 26, "color": "#1A1A1A", "baseline": "middle"},
         "encoding": {"y": {"datum": 92.5}, "text": {"field": "label"}}},
        {"data": {"name": "labels"}, "transform": [{"filter": "datum.panel === 'D' && datum.row === 'CN'"}], "mark": {"type": "text", "fontSize": 26, "color": "#00C5CD", "baseline": "middle"},
         "encoding": {"y": {"datum": 72.0}, "text": {"field": "label"}}},
        {"data": {"name": "labels"}, "transform": [{"filter": "datum.panel === 'D' && datum.row === 'SZ'"}], "mark": {"type": "text", "fontSize": 26, "color": "#CD2626", "baseline": "middle"},
         "encoding": {"y": {"datum": 58.0}, "text": {"field": "label"}}},
        {"data": {"name": "heads"}, "transform": [{"filter": "datum.panel === 'D' && datum.row === 'h1'"}], "mark": {"type": "text", "fontSize": 28.5, "color": "#1A1A1A", "align": "left", "baseline": "middle"},
         "encoding": {"x": {"field": "context", "type": "nominal", "bandPosition": -0.0556, "scale": {"domain": ["Alone", "Family", "Significant other", "Coworkers", "Friends", "Strangers"], "paddingInner": 0.1, "paddingOuter": 0.15}}, "y": {"datum": 102.3}, "text": {"field": "label"}}},
        {"data": {"name": "heads"}, "transform": [{"filter": "datum.panel === 'D' && datum.row === 'h2'"}], "mark": {"type": "text", "fontSize": 28.5, "color": "#1A1A1A", "align": "left", "baseline": "middle"},
         "encoding": {"x": {"field": "context", "type": "nominal", "bandPosition": -0.0556, "scale": {"domain": ["Alone", "Family", "Significant other", "Coworkers", "Friends", "Strangers"], "paddingInner": 0.1, "paddingOuter": 0.15}}, "y": {"datum": 82.2}, "text": {"field": "label"}}}
      ]
    }
  ]
}
